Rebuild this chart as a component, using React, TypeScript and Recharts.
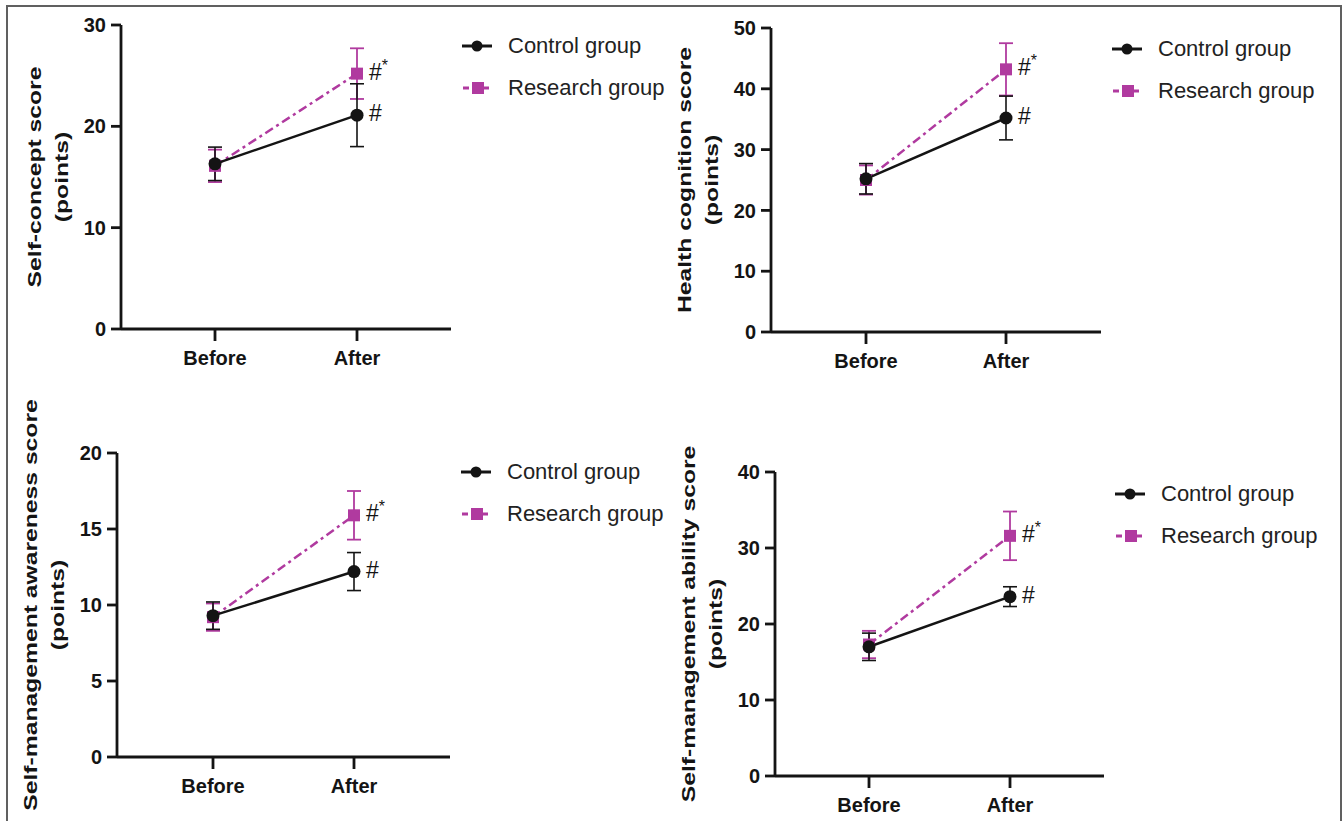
import React from "react";
import { LineChart, Line, XAxis, YAxis, ErrorBar, Legend, LabelList } from "recharts";

const categories = ["Before", "After"];
const groupNames = ["Control group", "Research group"];
const controlMarks = ["", "#"];
const researchMarks = ["", "#*"];

const conceptControl = [16.3, 21.1];
const conceptControlSd = [1.65, 3.1];
const conceptResearch = [16.1, 25.2];
const conceptResearchSd = [1.6, 2.5];
const conceptTicks = [0, 10, 20, 30];

const cognitionControl = [25.2, 35.2];
const cognitionControlSd = [2.5, 3.6];
const cognitionResearch = [25.0, 43.2];
const cognitionResearchSd = [2.4, 4.3];
const cognitionTicks = [0, 10, 20, 30, 40, 50];

const awarenessControl = [9.3, 12.2];
const awarenessControlSd = [0.9, 1.25];
const awarenessResearch = [9.2, 15.9];
const awarenessResearchSd = [0.9, 1.6];
const awarenessTicks = [0, 5, 10, 15, 20];

const abilityControl = [17.0, 23.6];
const abilityControlSd = [1.8, 1.3];
const abilityResearch = [17.3, 31.6];
const abilityResearchSd = [1.8, 3.2];
const abilityTicks = [0, 10, 20, 30, 40];

const PINK = "#b03a9f";
const INK = "#141414";
const YW = 60;
const XH = 40;

// plot-area corners are in page pixels; chart box is (ox, oy, w, h)
const panels = [
  {
    title: ["Self-concept score", "(points)"],
    control: conceptControl, controlSd: conceptControlSd,
    research: conceptResearch, researchSd: conceptResearchSd, ticks: conceptTicks,
    ox: 0, oy: 0, w: 671, h: 400, x0: 121, y0: 25, x1: 451, y1: 329, pad: 94, legendDy: 21,
  },
  {
    title: ["Health cognition score", "(points)"],
    control: cognitionControl, controlSd: cognitionControlSd,
    research: cognitionResearch, researchSd: cognitionResearchSd, ticks: cognitionTicks,
    ox: 671, oy: 0, w: 671, h: 400, x0: 771, y0: 28, x1: 1101, y1: 332, pad: 95, legendDy: 21,
  },
  {
    title: ["Self-management awareness score", "(points)"],
    control: awarenessControl, controlSd: awarenessControlSd,
    research: awarenessResearch, researchSd: awarenessResearchSd, ticks: awarenessTicks,
    ox: 0, oy: 400, w: 671, h: 421, x0: 117, y0: 453, x1: 450, y1: 757, pad: 96, legendDy: 19,
  },
  {
    title: ["Self-management ability score", "(points)"],
    control: abilityControl, controlSd: abilityControlSd,
    research: abilityResearch, researchSd: abilityResearchSd, ticks: abilityTicks,
    ox: 671, oy: 400, w: 671, h: 421, x0: 775, y0: 472, x1: 1104, y1: 776, pad: 94, legendDy: 22,
  },
];

function AxisTitle(props: any) {
  const vb = props.viewBox ?? { x: 0, y: 0, width: 0, height: 0 };
  const axisX = vb.x + vb.width;
  const cy = vb.y + vb.height / 2;
  return (
    <g>
      {props.lines.map((t: string, i: number) => (
        <text
          key={i}
          transform={`translate(${axisX - (i === 0 ? 86 : 59)},${cy}) rotate(-90) scale(1.3,1)`}
          textAnchor="middle"
          dominantBaseline="central"
          fontSize={19}
          fontWeight="bold"
          fill={INK}
        >
          {t}
        </text>
      ))}
    </g>
  );
}

function MarkLabel(props: any) {
  const vb = props.viewBox ?? {};
  const x = props.x ?? vb.x;
  const y = props.y ?? vb.y;
  const v = props.value as string;
  if (!v) return null;
  return (
    <text x={x + 12} y={y - 2} dominantBaseline="central" fontSize={23} fill={INK}>
      #
      {v.includes("*") && (
        <tspan fontSize={16} dy={-7}>
          *
        </tspan>
      )}
    </text>
  );
}

function GroupLegend({ payload }: { payload?: any[] }) {
  const items = [...(payload ?? [])].sort(
    (a, b) => groupNames.indexOf(a.value) - groupNames.indexOf(b.value)
  );
  return (
    <div>
      {items.map((it) => {
        const isControl = it.dataKey === "control";
        return (
          <div key={it.value} style={{ display: "flex", alignItems: "center", height: 42 }}>
            <svg width={30} height={20}>
              {isControl ? (
                <>
                  <line x1={0} y1={10} x2={30} y2={10} stroke={INK} strokeWidth={3} />
                  <circle cx={15} cy={10} r={5.5} fill={INK} />
                </>
              ) : (
                <>
                  <line x1={1} y1={10} x2={30} y2={10} stroke={PINK} strokeWidth={3} strokeDasharray="6 4" />
                  <rect x={10} y={4} width={12} height={12} fill={PINK} />
                </>
              )}
            </svg>
            <span style={{ marginLeft: 16, fontSize: 22, color: "#222", whiteSpace: "nowrap" }}>
              {it.value}
            </span>
          </div>
        );
      })}
    </div>
  );
}

function Panel({ p }: { p: (typeof panels)[number] }) {
  const data = categories.map((c, i) => ({
    name: c,
    control: p.control[i],
    controlSd: p.controlSd[i],
    controlMark: controlMarks[i],
    research: p.research[i],
    researchSd: p.researchSd[i],
    researchMark: researchMarks[i],
  }));
  const margin = {
    left: p.x0 - p.ox - YW,
    top: p.y0 - p.oy,
    right: p.ox + p.w - p.x1,
    bottom: p.oy + p.h - p.y1 - XH,
  };
  const axisStyle = { stroke: INK, strokeWidth: 2.8 };
  return (
    <div style={{ position: "absolute", left: p.ox, top: p.oy }}>
      <LineChart width={p.w} height={p.h} data={data} margin={margin}>
        <XAxis
          dataKey="name"
          height={XH}
          padding={{ left: p.pad, right: p.pad }}
          axisLine={axisStyle}
          tickLine={axisStyle}
          tickSize={12}
          tickMargin={10}
          tick={{ fill: INK, fontSize: 20, fontWeight: "bold" }}
        />
        <YAxis
          width={YW}
          domain={[0, p.ticks[p.ticks.length - 1]]}
          ticks={p.ticks}
          axisLine={axisStyle}
          tickLine={axisStyle}
          tickSize={10}
          tickMargin={5}
          tick={{ fill: INK, fontSize: 20, fontWeight: "bold" }}
          label={<AxisTitle lines={p.title} />}
        />
        <Legend
          layout="vertical"
          align="center"
          verticalAlign="middle"
          wrapperStyle={{
            left: p.x1 - p.ox + 11,
            top: p.y0 - p.oy + p.legendDy - 21,
            width: "auto",
            margin: 0,
          }}
          content={(props: any) => <GroupLegend payload={props.payload} />}
        />
        <Line
          name="Research group"
          dataKey="research"
          type="linear"
          stroke={PINK}
          strokeWidth={2.5}
          strokeDasharray="9 4 3 4"
          activeDot={false}
          isAnimationActive={false}
          dot={(d: any) => (
            <rect key={`r${d.index}`} x={d.cx - 6} y={d.cy - 6} width={12} height={12} fill={PINK} />
          )}
        >
          <ErrorBar dataKey="researchSd" width={7} stroke={PINK} strokeWidth={1.8} />
          <LabelList dataKey="researchMark" content={<MarkLabel />} />
        </Line>
        <Line
          name="Control group"
          dataKey="control"
          type="linear"
          stroke={INK}
          strokeWidth={2.5}
          activeDot={false}
          isAnimationActive={false}
          dot={{ r: 6.5, fill: INK, stroke: INK, strokeWidth: 0 }}
        >
          <ErrorBar dataKey="controlSd" width={7} stroke={INK} strokeWidth={1.6} />
          <LabelList dataKey="controlMark" content={<MarkLabel />} />
        </Line>
      </LineChart>
    </div>
  );
}

export default function App() {
  return (
    <div
      style={{
        position: "absolute",
        left: 0,
        top: 0,
        width: 1343,
        height: 821,
        overflow: "hidden",
        background: "#fff",
        fontFamily: '"Liberation Sans", Arial, sans-serif',
      }}
    >
      <div
        style={{
          position: "absolute",
          left: 6,
          top: 5,
          width: 1332,
          height: 900,
          border: "2px solid #606060",
        }}
      />
      {panels.map((p) => (
        <Panel key={p.title[0]} p={p} />
      ))}
    </div>
  );
}
